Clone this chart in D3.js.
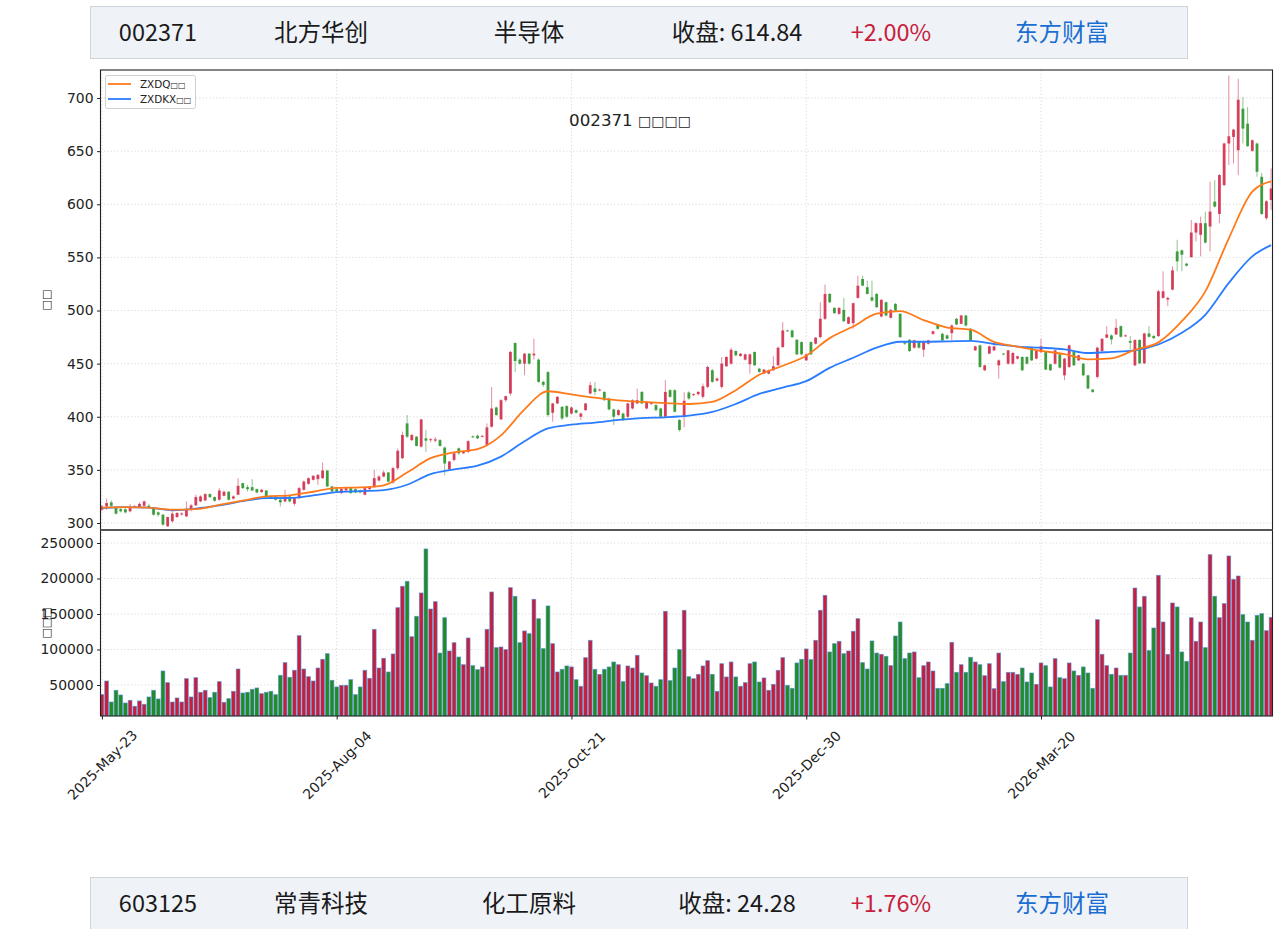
<!DOCTYPE html>
<html>
<head>
<meta charset="utf-8">
<script src="https://cdn.jsdelivr.net/npm/d3@7"></script>
<style>
  body { margin: 0; background: #fff; }
  svg text { font-family: "DejaVu Sans", sans-serif; }
</style>
</head>
<body>
<svg id="chart" width="1274" height="929"></svg>
<script>
// ---- data ----
var tickIdx = [0, 50, 100, 150, 200];
var tickLabels = ["2025-May-23", "2025-Aug-04", "2025-Oct-21", "2025-Dec-30", "2026-Mar-20"];

var opens = [312.5,315.6,319.4,314.7,313,313,311,315,315,316.25,316.25,314.7,310,307.8,296.9,301.6,305.6,308,306.25,312.5,
316.6,320.3,321.25,327.2,324.4,321.9,325.6,329.4,323,326.6,337.5,333.75,333.75,331.9,329.1,330.6,325,325,321.9,320.3,
325,318.1,323.4,331.25,336.9,340.6,341.25,342.2,349.4,334.4,331.9,328.1,330.6,332.8,331.9,330.6,326.6,331.9,333.75,340,
343.75,347.5,338.1,351.6,361,393.75,378,381.25,371.9,379.7,378,377.5,378,371,350.6,359.4,370.3,365.6,367,381.5,
382.2,381.6,373.4,390.6,408.75,397.5,415.6,421.9,469.4,453.75,450,459.4,457.8,453.75,432.8,442,403.75,412.5,409.4,410,
403,406.25,400,406.25,421.9,426.6,425,423.4,417,406.9,401.6,403,400,407.8,412.5,423.4,407.8,412.5,411,407.8,
400,425,425,396.9,400,422.8,420.3,421.25,418.75,428.1,443.75,434,428.1,447.5,450,461.9,457.2,453.75,449.4,460.9,
445.3,440.6,440.6,443.75,448.4,465.6,481.25,481.25,472.5,470.3,453.1,470.3,468.75,475,492.2,515.6,502.5,496.9,500.6,487.5,
488.1,511.9,529.7,521.9,512.5,515.6,494.4,507.8,493.1,506.25,496.9,470,472.5,465,470.3,463.1,468.75,478,486.9,478.1,
476.6,478.75,492.2,487.5,495.3,482.8,462.5,467.2,443.75,459.4,462.5,448.4,459.4,450,450,454.7,456.25,456.25,465,454.7,
460.9,460.9,449.4,450,458.75,439,446.9,460.9,453.1,450,439,425.6,437.5,461.9,474.4,476.6,477.5,485.3,476,471.25,
448.4,472.2,450.3,478.4,476,475.9,511.9,510.3,519.7,555.6,556.6,544.1,550.3,573.4,571.25,582.2,579.1,602.5,590.9,618.1,
657.2,663.4,650.9,690,675.9,650.3,657.2,625.9,586.9,604];

var highs = [317,323,321.25,316,314,314,318,317,319.4,321.25,318,315,311,308.5,306,311,310.5,310,320.3,318,
326.6,326,328,328,325,332.8,330.5,330,326,342,338,335.9,341.25,332.5,332,331,326,326,322.5,331.25,
326,324,334,340,343,345,346,356.9,350,335,333,333,333.5,333.5,332.5,331.5,334,334.5,350,345,
349.4,348,353,370,386,401.6,384,382,398,387.5,380,381,379,372,358.5,366.5,371,368,378,382.5,
383,383,393.75,428,409.5,416.5,420,462,470,455,460,460,473.4,455,434,443,413,419.5,410,411,
409.5,407,404,413,432.8,432.8,426.5,424,418,407.5,407,404,413.5,416.5,426.5,424,415,414,412,408.5,
434.4,426,426,398,423,424,422,424,431.25,448,445,437,456.25,457,465,462.5,460,459.5,459.5,461.5,
446,445,444.5,456.9,466,489,482,482,473,471,459.5,471,475,507.8,524.4,516.5,503,503,511.9,494.5,
507.5,532.8,532.8,528.1,528.1,516.5,511,508.5,501.5,507,497.5,471,473,472.5,471,471,472.5,481,487.5,479,
477.5,487,493,496,496,483.5,467,468,449,467,467,454,460,463,461,457.5,457,457,466,462.5,
473.4,461.5,450,463,459.5,455.5,468,461.5,458.5,450.5,439.5,426,466,474,485.3,477.5,492.2,486,477.5,475.9,
473,473,479,485.3,477,519.7,536.9,513,541.6,566.6,557.5,545,585.3,583,588.4,593.1,621.25,622.8,628.5,658,
721.25,671,718.1,700.9,691.6,661,658,629.7,604,633.75];

var lows = [311,312.5,315,308,310,309,310,314,314,315,314,307,306,297.5,296.25,300.5,305,307,305.5,311,
316,319.5,320.5,323.5,320,321,325,321,322,326,332,329.7,330,328,328.5,324,323,321,315.6,319.5,
319.5,316.25,322.5,330.5,336,340,335.9,341.5,334,329,329,327.5,330,327.5,328,328,326,331,333,339,
343,338.5,337,350,360,380,377,372,371,367,376,376,372,345,350,358,364,365,366,380,
379,380.5,372,390,401,397,414,420,442,449,439,449,453.75,432,428,400,395.3,412,397,399,
402,403,396.9,405.5,421,420.3,424,415,406,392.2,401,396,399,407,412,412,407,411,405,399,
399,418,404,386,390,416,419.5,420,417.2,427,432,433,426.6,447,449,457,456.5,453,440.6,448,
441.5,440,440,443,448,465,480,474,458,458,452.5,458,468,474,491,507,497,496,489,487,
482.8,511,523,515,508.5,502.5,493.5,494.5,492.5,499,474,467.5,461,464,464,456.25,468,477,482,471,
473,471.9,486,487,485,471,462,446,443,459,462,435.9,458,449,449,454,443,449,452.5,454,
460,444,443,449,445.5,434.4,446,448,452.5,438,426,422.5,436,461,474,468.1,477,474.5,475,463.4,
447.5,449.5,449.5,474.5,473,475,511,504.1,519,536.9,536.9,541.5,549.5,565,550.9,563,555.6,597,582.2,617,
636.9,638.4,627.5,657.2,654,649.5,625.9,590,585.3,594.7];

var closes = [315.6,318.75,316.25,308.75,311,310,315,315.6,318,320.3,314.7,307.8,307.8,298.4,305.6,308.75,309.4,309,312.5,316.6,
324.4,325,327.2,324.4,320.9,330.6,329.4,321.9,325,335,332.8,331.9,330.6,328.75,331.25,324.4,323.4,321.9,319.4,325,
320.3,323.4,332.8,339,342.2,344.4,345.3,349.4,334.4,329.7,329.7,331.9,332.8,328.1,328.75,328.75,332.8,333.75,342.2,343.75,
347.5,339,351.6,368,382.8,381.25,382.8,372.5,397.5,377.5,378.8,378.75,372.5,356,357.8,365.6,365.6,367,377,380.6,
379.7,382,390,407.8,401.6,415.6,419.4,461,452.5,450,459.4,450,459.4,432.8,430,401.6,412.5,418.75,398.4,400,
408.75,403.75,403,412.5,429.7,423.4,425.6,415.6,406.9,400,406.25,396.9,412.5,415.6,415.6,412.5,414,412.8,406.25,400,
423.4,418.75,404.7,387.5,415,417.2,421.25,423.4,428.75,446.9,432.8,436,450,456.25,463.1,457.8,459.4,458.75,458.75,448.4,
442.2,444.4,443.75,447.5,465,481.25,480.6,475,458.75,458.75,458.75,458.75,474.4,492.2,515.6,507.8,497.5,502.5,490,493.75,
506.9,523.4,523.4,515.6,509.4,503.1,510,495.3,500.6,500,475,468.75,461.9,471.9,465,470.3,471.9,480.5,482.8,471.9,
473.4,485.9,486.9,495.3,485.9,471.9,466.25,446.9,448.4,466.25,466.25,453.1,458.75,462.5,460,456.9,443.75,450,453.1,461.9,
466.25,444.4,443.75,462.5,446.25,454.7,467.2,448.4,457.8,439,426.6,423.4,465,473.4,477.5,472.8,483.75,475.3,476.6,469.7,
472.2,450.3,478.4,475.3,474,518.1,518.1,511.9,537.8,546.25,552.5,542.2,573.4,582.2,582.2,564,593.1,597.8,627.5,657.2,
664,670.3,698.4,671.25,654.7,660.3,630.6,590.9,602.8,614.84];

var volumes = [36400,55600,26000,42500,35900,24600,28400,20000,27500,22800,33100,42500,30300,69700,53300,26000,31700,26000,58900,33100,
60300,39700,42500,32200,39700,54700,25600,30750,41100,72500,38700,39700,43900,45800,37800,39700,41100,36400,63600,81500,
60800,70700,119500,72500,61700,55600,73900,86200,94100,56600,47200,49500,49500,57500,36400,47200,70700,59400,128400,73900,
87600,68300,93700,158900,189000,196000,118000,146700,179600,241600,157000,167400,95000,144800,97900,109600,89400,78600,116200,77200,
71600,75400,128400,181000,102600,103500,99800,187100,174900,109600,126100,122300,170700,143400,101200,161300,108200,68300,72100,76800,
75400,57500,48100,88500,112900,72100,65000,72100,75400,82400,78600,54700,76800,73900,91800,66900,63100,52800,48100,57500,
153800,56100,73900,99800,155200,61700,58900,65000,76800,84300,65000,41100,80000,61300,82400,61300,48100,53300,80000,82400,
54200,59900,42500,50900,70700,88500,49500,45300,81000,86200,100700,85700,112900,155200,176300,96500,108200,111500,94100,97900,
125600,143400,81500,72500,112000,95000,93200,90400,77200,119000,138700,87100,95000,96500,60300,77200,82400,69700,45300,45300,
51900,110100,67800,78600,67800,89000,82400,78600,63100,80000,44800,95000,54700,67800,67800,65000,73900,54200,66900,50900,
81000,77200,47200,87100,60300,58900,81000,69700,63600,75400,66900,45300,142000,93200,77200,65000,73900,63600,63600,95000,
186600,159900,174900,98400,130300,204500,138700,93200,165500,159900,96500,83300,144800,111500,138700,102600,233600,174900,144800,164600,
231700,198800,203500,149100,138700,112900,148100,150500,126500,145300];

// trend lines, read every 5 bars
var lineIdx = [0,5,10,15,20,25,30,35,40,45,50,55,60,65,70,75,80,85,90,95,100,105,110,115,120,125,130,135,140,145,
150,155,160,165,170,175,180,185,190,195,200,205,210,215,220,225,230,235,240,245,249];
var zxdq = [314.5,315,314.5,312.5,313,317,321,325,326,329.4,333,333.5,335.5,347.5,361,366.5,369.5,382.5,407,424,
421,418,415.5,414,412.8,412,414,425,439.5,448,457.5,474,485,497,499.5,491,484,482,470.5,466,
462,459,454,455,463,470,490,518,568,612,621.5];
var zxdkx = [314,315,314.5,312,313.5,316.5,320.5,323.4,323.5,326,329,330,331,336,346,350.5,354,362.5,377,389,
392.5,394.5,397,398.8,399.5,401,404.5,412,421.5,427.5,433.5,446,455.5,465,470.6,470.6,471,471.5,468.5,466,
465,463.5,460,461,462.5,468,479,496,526,551,561.5];

var priceTicks = [300, 350, 400, 450, 500, 550, 600, 650, 700];
var volTicks = [50000, 100000, 150000, 200000, 250000];

var headerTexts = ["002371", "北方华创", "半导体", "收盘: 614.84", "+2.00%", "东方财富"];
var footerTexts = ["603125", "常青科技", "化工原料", "收盘: 24.28", "+1.76%", "东方财富"];

// ---- layout ----
var svg = d3.select("#chart");
var left = 100.5, right = 1272.5;
var mainTop = 70, mainBot = 530, volTop = 530, volBot = 716;

var x = d3.scaleLinear().domain([-0.3, 249.3]).range([left, right]);
var y = d3.scaleLinear().domain([293.4, 726.4]).range([mainBot, mainTop]);
var yv = d3.scaleLinear().domain([6300, 268300]).range([volBot, volTop]);

var upCol = "#d2304f", downCol = "#2f962f";
var upVol = "#c81e3c", downVol = "#228b22";

var bars = opens.map(function (o, i) {
  return { i: i, o: o, h: highs[i], l: lows[i], c: closes[i], v: volumes[i], up: closes[i] >= o };
});

// header / footer strips
function strip(yTop, h, texts, base) {
  svg.append("rect")
    .attr("x", 90.5).attr("y", yTop).attr("width", 1097).attr("height", h)
    .attr("fill", "#eff3f8").attr("stroke", "#cfd4da");
  var centers = [158, 321, 529, 737, 891, 1062];
  var cols = ["#1a1a1a", "#1a1a1a", "#1a1a1a", "#1a1a1a", "#c8203c", "#1a6ed2"];
  texts.forEach(function (t, k) {
    svg.append("text")
      .attr("x", centers[k]).attr("y", base)
      .attr("text-anchor", "middle")
      .style("font-family", "'Noto Sans CJK SC', 'Noto Sans', sans-serif")
      .style("font-size", "23.5px")
      .attr("fill", cols[k])
      .text(t);
  });
}
strip(6.5, 52, headerTexts, 41);
strip(877.5, 60, footerTexts, 912);

// clips
var defs = svg.append("defs");
defs.append("clipPath").attr("id", "clipMain").append("rect")
  .attr("x", left).attr("y", mainTop).attr("width", right - left).attr("height", mainBot - mainTop);
defs.append("clipPath").attr("id", "clipVol").append("rect")
  .attr("x", left).attr("y", volTop).attr("width", right - left).attr("height", volBot - volTop);

// grids
var grid = svg.append("g").attr("stroke", "#d0d0d0").attr("stroke-width", 0.8).attr("stroke-dasharray", "1.2,2.2");
priceTicks.forEach(function (p) {
  grid.append("line").attr("x1", left).attr("x2", right).attr("y1", y(p)).attr("y2", y(p));
});
volTicks.forEach(function (v) {
  grid.append("line").attr("x1", left).attr("x2", right).attr("y1", yv(v)).attr("y2", yv(v));
});
tickIdx.forEach(function (t) {
  grid.append("line").attr("x1", x(t)).attr("x2", x(t)).attr("y1", mainTop).attr("y2", volBot);
});

// candles
var main = svg.append("g").attr("clip-path", "url(#clipMain)");
var bw = x(0.6) - x(0);
main.selectAll("line.wick").data(bars).enter().append("line")
  .attr("class", "wick")
  .attr("x1", function (d) { return x(d.i); }).attr("x2", function (d) { return x(d.i); })
  .attr("y1", function (d) { return y(d.h); }).attr("y2", function (d) { return y(d.l); })
  .attr("stroke", function (d) { return d.up ? upCol : downCol; })
  .attr("stroke-opacity", 0.55).attr("stroke-width", 1);
main.selectAll("rect.body").data(bars).enter().append("rect")
  .attr("class", "body")
  .attr("x", function (d) { return x(d.i) - bw / 2; })
  .attr("width", bw)
  .attr("y", function (d) { return y(Math.max(d.o, d.c)); })
  .attr("height", function (d) { return Math.max(0.9, Math.abs(y(d.o) - y(d.c))); })
  .attr("fill", function (d) { return d.up ? upCol : downCol; })
  .attr("fill-opacity", 0.9);

// trend lines
function trend(vals, col) {
  var pts = lineIdx.map(function (t, k) { return [t, vals[k]]; });
  main.append("path").datum(pts)
    .attr("fill", "none").attr("stroke", col).attr("stroke-width", 1.8)
    .attr("d", d3.line().x(function (d) { return x(d[0]); }).y(function (d) { return y(d[1]); })
      .curve(d3.curveMonotoneX));
}
trend(zxdkx, "#2a7cff");
trend(zxdq, "#ff7a1a");

// volume
var vol = svg.append("g").attr("clip-path", "url(#clipVol)");
var vw = x(0.8) - x(0);
vol.selectAll("rect").data(bars).enter().append("rect")
  .attr("x", function (d) { return x(d.i) - vw / 2; })
  .attr("width", vw)
  .attr("y", function (d) { return yv(d.v); })
  .attr("height", function (d) { return volBot - yv(d.v); })
  .attr("fill", function (d) { return d.up ? upVol : downVol; })
  .attr("stroke", "#4f8fd6").attr("stroke-opacity", 0.75).attr("stroke-width", 0.8);

// axes
var axisFont = "13.9px";
var yAxis = svg.append("g").attr("transform", "translate(" + left + ",0)")
  .call(d3.axisLeft(y).tickValues(priceTicks).tickSize(3.5).tickPadding(3.5));
var vAxis = svg.append("g").attr("transform", "translate(" + left + ",0)")
  .call(d3.axisLeft(yv).tickValues(volTicks).tickSize(3.5).tickPadding(3.5).tickFormat(d3.format("d")));
var xAxis = svg.append("g").attr("transform", "translate(0," + volBot + ")")
  .call(d3.axisBottom(x).tickValues(tickIdx).tickSize(3.5)
    .tickFormat(function (d, k) { return tickLabels[k]; }));
// 45 degree labels centred on the tick, like matplotlib rotation=45
xAxis.selectAll("text")
  .attr("y", 0).attr("dy", "0.35em")
  .attr("text-anchor", "middle")
  .attr("transform", "translate(0,49) rotate(-45)");
[yAxis, vAxis, xAxis].forEach(function (a) {
  a.select(".domain").remove();
  a.selectAll("text").style("font-size", axisFont).style("font-family", "'DejaVu Sans'").attr("fill", "#222");
  a.selectAll("line").attr("stroke", "#222");
});

// frames
svg.append("rect").attr("x", left).attr("y", mainTop).attr("width", right - left).attr("height", volBot - mainTop)
  .attr("fill", "none").attr("stroke", "#222").attr("stroke-width", 1.1);
svg.append("line").attr("x1", left).attr("x2", right).attr("y1", mainBot).attr("y2", mainBot)
  .attr("stroke", "#555").attr("stroke-width", 2);

// labels (the source font had no CJK glyphs, so these show as empty boxes)
var box = "\u25A1";
function boxText(sel, lead, n, boxSize) {
  if (lead) sel.append("tspan").text(lead);
  sel.append("tspan").style("font-size", boxSize + "px").text(box.repeat(n));
  return sel;
}
boxText(svg.append("text").attr("x", 630).attr("y", 126).attr("text-anchor", "middle")
  .style("font-size", "16.7px").attr("fill", "#222"), "002371 ", 4, 14);
boxText(svg.append("text").attr("transform", "translate(50,300) rotate(-90)").attr("text-anchor", "middle")
  .style("font-size", "13.9px").attr("fill", "#222"), "", 2, 11);
boxText(svg.append("text").attr("transform", "translate(50,623) rotate(-90)").attr("text-anchor", "middle")
  .style("font-size", "13.9px").attr("fill", "#222"), "", 3, 11);

// legend
var lg = svg.append("g");
lg.append("rect").attr("x", 105.5).attr("y", 75.5).attr("width", 90).attr("height", 33).attr("rx", 2)
  .attr("fill", "#fff").attr("fill-opacity", 0.8).attr("stroke", "#d0d0d0");
[["ZXDQ", "#ff7a1a", 84], ["ZXDKX", "#2a7cff", 99]].forEach(function (e) {
  lg.append("line").attr("x1", 108).attr("x2", 131).attr("y1", e[2]).attr("y2", e[2])
    .attr("stroke", e[1]).attr("stroke-width", 1.8);
  boxText(lg.append("text").attr("x", 140).attr("y", e[2] + 3.8).style("font-size", "10.4px").attr("fill", "#222"),
    e[0], 2, 8);
});
</script>
</body>
</html>
